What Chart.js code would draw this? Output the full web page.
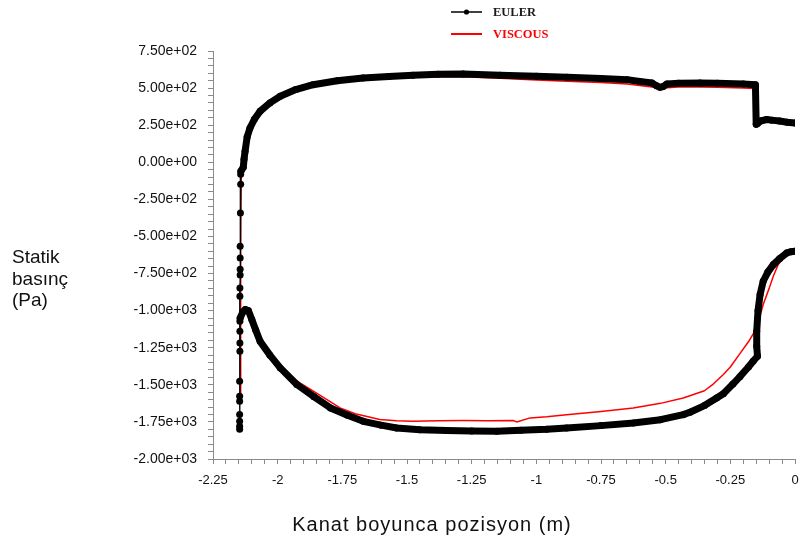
<!DOCTYPE html>
<html>
<head>
<meta charset="utf-8">
<script src="https://cdn.jsdelivr.net/npm/chart.js@4/dist/chart.umd.min.js"></script>
<style>
  html, body { margin: 0; padding: 0; background: #fff; }
  #wrap { width: 799px; height: 541px; position: relative; }
</style>
</head>
<body>
<div id="wrap"><canvas id="c" width="799" height="541"></canvas></div>
<script>
// ---- data ----
const seriesNames = ["EULER", "VISCOUS"];
const axisTitleX = "Kanat boyunca pozisyon (m)";
const axisTitleY = ["Statik", "basınç", "(Pa)"];

// EULER: one closed contour, from trailing edge (x=0) along upper side, down the leading edge, back along lower side
const eulerX = [
  0, -0.03, -0.06, -0.09, -0.109, -0.13, -0.145, -0.150,
  -0.153, -0.2, -0.3, -0.367, -0.45, -0.495, -0.51, -0.522, -0.535, -0.553, -0.6, -0.649, -0.75, -0.881,
  -1.0, -1.14, -1.283, -1.38, -1.477, -1.57, -1.67, -1.77, -1.863, -1.93, -1.99, -2.03, -2.068, -2.09,
  -2.107, -2.118, -2.126, -2.13, -2.133,
  -2.142, -2.143, -2.143, -2.144, -2.145, -2.145, -2.145, -2.145, -2.146, -2.146, -2.146, -2.146, -2.146,
  -2.146, -2.147, -2.147, -2.147, -2.147, -2.147, -2.147, -2.147,
  -2.145,
  -2.135, -2.125, -2.113, -2.10, -2.085, -2.068, -2.03, -1.99, -1.926, -1.86, -1.796, -1.73, -1.669,
  -1.60, -1.54, -1.45, -1.346, -1.25, -1.153, -1.06, -0.96, -0.883, -0.75, -0.625, -0.52, -0.432,
  -0.406, -0.35, -0.303, -0.277, -0.24, -0.213, -0.18, -0.162, -0.145, -0.148, -0.148, -0.143,
  -0.135, -0.123, -0.105, -0.084, -0.06, -0.032, -0.015, 0
];
const eulerY = [
  265, 270, 278, 284, 288, 280, 262, 256,
  523, 527, 533, 535, 533, 528, 510, 505, 515, 535, 545, 557, 565, 573,
  580, 586, 595, 593, 586, 578, 568, 550, 523, 490, 445, 400, 344, 290,
  231, 170, 74, 20, -34,
  -60, -81, -148, -342, -566, -645, -721, -760, -847, -903, -1072, -1139, -1218,
  -1274, -1476, -1577, -1611, -1700, -1746, -1780, -1800,
  -1050,
  -1010, -993, -1000, -1060, -1130, -1207, -1300, -1386, -1498, -1580, -1656, -1705, -1746,
  -1772, -1791, -1803, -1808, -1812, -1813, -1806, -1800, -1791, -1775, -1757, -1735, -1701,
  -1685, -1640, -1589, -1560, -1495, -1445, -1380, -1341, -1307, -1240, -1139, -1000,
  -892, -802, -740, -690, -650, -611, -603, -600
];

// VISCOUS: same contour ordering
const viscousX = [
  0, -0.05, -0.109, -0.145, -0.150,
  -0.153, -0.2, -0.3, -0.367, -0.45, -0.495, -0.553, -0.649, -0.75, -0.881, -1.0, -1.14, -1.283,
  -1.38, -1.477, -1.57, -1.67, -1.77, -1.863, -1.93, -1.99, -2.03, -2.068, -2.09, -2.107, -2.118, -2.126,
  -2.135, -2.141, -2.143, -2.143, -2.143,
  -2.143,
  -2.135, -2.122, -2.11, -2.09, -2.068, -2.03, -1.99, -1.93, -1.862, -1.80, -1.759, -1.70, -1.605,
  -1.54, -1.477, -1.38, -1.283, -1.19, -1.09, -1.076, -1.024, -0.96, -0.883, -0.75, -0.625, -0.52,
  -0.432, -0.35, -0.316, -0.277, -0.25, -0.213, -0.18, -0.148, -0.123, -0.1, -0.084, -0.065, -0.04,
  -0.02, 0
];
const viscousY = [
  262, 270, 282, 258, 258,
  498, 500, 506, 508, 507, 503, 508, 528, 538, 546, 555, 566, 577,
  578, 574, 566, 557, 540, 515, 483, 438, 395, 340, 287, 228, 165, 70,
  -40, -100, -400, -900, -1560,
  -1060,
  -1010, -990, -1000, -1080, -1190, -1290, -1370, -1470, -1543, -1610, -1656, -1695, -1734,
  -1742, -1746, -1742, -1741, -1742, -1741, -1750, -1723, -1715, -1701, -1680, -1656, -1625,
  -1589, -1540, -1495, -1430, -1380, -1290, -1210, -1117, -959, -850, -768, -690, -630,
  -605, -600
];

// axis ranges and tick labels
const xMin = -2.25, xMax = 0, xMajor = 0.25, xMinor = 0.05;
const yMin = -2000, yMax = 750, yMajor = 250, yMinor = 50;

// ---- helpers ----
function toPts(xs, ys) { return xs.map((x, i) => ({ x: x, y: ys[i] })); }
function isMajor(v, step) { const r = v / step; return Math.abs(r - Math.round(r)) < 1e-6; }
function fmtX(v) {
  let s = parseFloat(v.toFixed(2));
  if (Object.is(s, -0) || Math.abs(s) < 1e-9) s = 0;
  return String(s);
}
function fmtY(v) {
  if (Math.abs(v) < 1e-9) return "0.00e+00";
  const s = v.toExponential(2);
  const [m, e] = s.split("e");
  const sign = e[0] === "-" ? "-" : "+";
  let d = e.replace(/^[+-]/, "");
  if (d.length < 2) d = "0" + d;
  return m + "e" + sign + d;
}

const AXIS_COLOR = "#8a8a8a";
const tickFont = { family: '"Liberation Sans", Arial, sans-serif', size: 14 };

const overlay = {
  id: "overlay",
  afterDraw(chart) {
    const ctx = chart.ctx;
    ctx.save();
    // y-axis title (horizontal, three lines)
    ctx.fillStyle = "#111";
    ctx.textAlign = "left";
    ctx.textBaseline = "alphabetic";
    ctx.font = '19px "Liberation Sans", Arial, sans-serif';
    const yl = [263, 285, 306];
    axisTitleY.forEach((t, i) => ctx.fillText(t, 12, yl[i]));
    // x-axis title
    ctx.textAlign = "center";
    ctx.font = '20px "Liberation Sans", Arial, sans-serif';
    try { ctx.letterSpacing = "1px"; } catch (e) {}
    ctx.fillText(axisTitleX, 432, 531);
    try { ctx.letterSpacing = "0px"; } catch (e) {}
    // legend
    ctx.textAlign = "left";
    ctx.textBaseline = "middle";
    // EULER
    ctx.strokeStyle = "#000"; ctx.lineWidth = 1.5;
    ctx.beginPath(); ctx.moveTo(451, 12); ctx.lineTo(482, 12); ctx.stroke();
    ctx.fillStyle = "#000";
    ctx.beginPath(); ctx.arc(466.5, 12, 2.6, 0, Math.PI * 2); ctx.fill();
    ctx.font = 'bold 12.5px "Liberation Serif", "Times New Roman", serif';
    ctx.fillStyle = "#1a1a1a";
    ctx.fillText(seriesNames[0], 493, 13);
    // VISCOUS
    ctx.strokeStyle = "#ff0000"; ctx.lineWidth = 2;
    ctx.beginPath(); ctx.moveTo(451, 34); ctx.lineTo(482, 34); ctx.stroke();
    ctx.fillStyle = "#ff0000";
    ctx.fillText(seriesNames[1], 493, 35);
    ctx.restore();
  }
};

new Chart(document.getElementById("c"), {
  type: "scatter",
  data: {
    datasets: [
      {
        label: seriesNames[0],
        data: toPts(eulerX, eulerY),
        showLine: true,
        borderColor: "#000",
        borderWidth: 7,
        borderJoinStyle: "round",
        borderCapStyle: "round",
        pointRadius: 3.5,
        pointBackgroundColor: "#000",
        pointBorderColor: "#000",
        pointBorderWidth: 0,
        segment: {
          borderWidth: c => (c.p0.parsed.x < -2.139 && c.p1.parsed.x < -2.139) ? 1.3 : 7
        }
      },
      {
        label: seriesNames[1],
        data: toPts(viscousX, viscousY),
        showLine: true,
        borderColor: "#ff0000",
        borderWidth: 1.5,
        pointRadius: 0,
        borderJoinStyle: "round"
      }
    ]
  },
  options: {
    responsive: false,
    devicePixelRatio: 1,
    animation: false,
    events: [],
    layout: { autoPadding: false, padding: { top: 51, right: 4, bottom: 0, left: 0 } },
    plugins: { legend: { display: false }, tooltip: { enabled: false }, title: { display: false } },
    scales: {
      x: {
        type: "linear",
        min: xMin, max: xMax,
        afterFit: s => { s.height = 82; s.paddingRight = 0; s.paddingLeft = 0; },
        grid: { display: true, drawOnChartArea: false, drawTicks: true, tickLength: 5, color: AXIS_COLOR },
        border: { display: true, color: AXIS_COLOR, width: 1 },
        ticks: {
          stepSize: xMinor, autoSkip: false, maxRotation: 0, minRotation: 0,
          padding: 9, color: "#111",
          font: { family: tickFont.family, size: 13 },
          callback: v => isMajor(v, xMajor) ? fmtX(v) : ""
        }
      },
      y: {
        type: "linear",
        min: yMin, max: yMax,
        afterFit: s => { s.width = 213; s.paddingTop = 0; s.paddingBottom = 0; },
        grid: { display: true, drawOnChartArea: false, drawTicks: true, tickLength: 5, color: AXIS_COLOR },
        border: { display: true, color: AXIS_COLOR, width: 1 },
        ticks: {
          stepSize: yMinor, autoSkip: false,
          padding: 11, color: "#111",
          font: tickFont,
          callback: v => isMajor(v, yMajor) ? fmtY(v) : ""
        }
      }
    }
  },
  plugins: [overlay]
});
</script>
</body>
</html>
